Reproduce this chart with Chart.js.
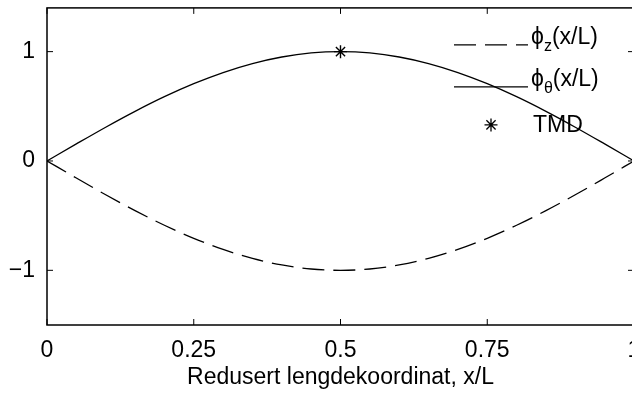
<!DOCTYPE html>
<html>
<head>
<meta charset="utf-8">
<script src="https://cdn.jsdelivr.net/npm/chart.js@4.4.1/dist/chart.umd.min.js"></script>
<style>
  html, body { margin: 0; padding: 0; background: #fff; overflow: hidden; }
  #wrap { width: 664px; height: 394px; }
</style>
</head>
<body>
<div id="wrap"><canvas id="chart" width="664" height="394"></canvas></div>
<script>
// mode shapes along the girder, x/L
const positions = [0, 0.05, 0.10, 0.15, 0.20, 0.25, 0.30, 0.35, 0.40, 0.45, 0.50,
                   0.55, 0.60, 0.65, 0.70, 0.75, 0.80, 0.85, 0.90, 0.95, 1.00];
const phiTheta = [0, 0.156, 0.309, 0.454, 0.588, 0.707, 0.809, 0.891, 0.951, 0.988, 1.000,
                  0.988, 0.951, 0.891, 0.809, 0.707, 0.588, 0.454, 0.309, 0.156, 0];
const phiZ = [0, -0.156, -0.309, -0.454, -0.588, -0.707, -0.809, -0.891, -0.951, -0.988, -1.000,
              -0.988, -0.951, -0.891, -0.809, -0.707, -0.588, -0.454, -0.309, -0.156, 0];
const tmdPos = [0.5];
const tmdVal = [1];

const xTicks = [0, 0.25, 0.5, 0.75, 1];
const xTickLabels = ['0', '0.25', '0.5', '0.75', '1'];
const yTicks = [-1, 0, 1];
const yTickLabels = ['\u22121', '0', '1'];

const FONT = "'Liberation Sans', Arial, Helvetica, sans-serif";
const FONT_SIZE = 23;

function pts(xs, ys) {
  return xs.map((x, i) => ({ x: x, y: ys[i] }));
}

// box around the axes with the ticks pointing inwards
const framePlugin = {
  id: 'frame',
  afterDraw(chart) {
    const { ctx, chartArea: a, scales } = chart;
    const len = 6;
    ctx.save();
    ctx.strokeStyle = '#000';
    ctx.lineWidth = 1.5;
    ctx.strokeRect(a.left, a.top, a.right - a.left, a.bottom - a.top);
    ctx.lineWidth = 1;
    ctx.beginPath();
    xTicks.forEach(v => {
      const px = scales.x.getPixelForValue(v);
      ctx.moveTo(px, a.bottom); ctx.lineTo(px, a.bottom - len);
      ctx.moveTo(px, a.top); ctx.lineTo(px, a.top + len);
    });
    yTicks.forEach(v => {
      const py = scales.y.getPixelForValue(v);
      ctx.moveTo(a.left, py); ctx.lineTo(a.left + len, py);
      ctx.moveTo(a.right, py); ctx.lineTo(a.right - len, py);
    });
    ctx.stroke();
    ctx.restore();
  }
};

// legend in the upper right corner, with subscripts
const legendPlugin = {
  id: 'modeLegend',
  afterDraw(chart) {
    const { ctx, chartArea: a } = chart;
    const x0 = a.right - 180;
    const x1 = a.right - 106;
    const tx = a.right - 103;
    const rows = [a.top + 37, a.top + 79, a.top + 117];
    const sets = chart.data.datasets;

    ctx.save();
    ctx.strokeStyle = '#000';
    ctx.fillStyle = '#000';

    for (let i = 0; i < 2; i++) {
      ctx.lineWidth = sets[i].borderWidth;
      ctx.setLineDash(sets[i].borderDash || []);
      ctx.beginPath();
      ctx.moveTo(x0, rows[i]);
      ctx.lineTo(x1, rows[i]);
      ctx.stroke();
    }
    ctx.setLineDash([]);

    const subs = ['z', '\u03b8'];
    ctx.textBaseline = 'alphabetic';
    for (let i = 0; i < 2; i++) {
      const base = rows[i] - 1;
      let x = tx;
      ctx.font = FONT_SIZE + 'px ' + FONT;
      ctx.fillText('\u03d5', x, base);
      x += ctx.measureText('\u03d5').width;
      ctx.font = '16px ' + FONT;
      ctx.fillText(subs[i], x, base + 7);
      x += ctx.measureText(subs[i]).width;
      ctx.font = FONT_SIZE + 'px ' + FONT;
      ctx.fillText('(x/L)', x, base);
    }

    Chart.helpers.drawPoint(ctx, {
      pointStyle: 'star', radius: 6.5, rotation: 0, borderWidth: 1.4
    }, (x0 + x1) / 2, rows[2]);
    ctx.font = FONT_SIZE + 'px ' + FONT;
    ctx.textBaseline = 'middle';
    ctx.fillText('TMD', tx + 2, rows[2] + 1);
    ctx.restore();
  }
};

const ctx = document.getElementById('chart').getContext('2d');
new Chart(ctx, {
  type: 'line',
  data: {
    datasets: [
      {
        label: 'phi_z',
        data: pts(positions, phiZ),
        borderColor: '#000',
        borderWidth: 1.3,
        borderDash: [22, 9],
        pointRadius: 0,
        cubicInterpolationMode: 'monotone',
        fill: false
      },
      {
        label: 'phi_theta',
        data: pts(positions, phiTheta),
        borderColor: '#000',
        borderWidth: 1.3,
        pointRadius: 0,
        cubicInterpolationMode: 'monotone',
        fill: false
      },
      {
        label: 'TMD',
        data: pts(tmdPos, tmdVal),
        showLine: false,
        pointStyle: 'star',
        pointRadius: 6.5,
        borderColor: '#000',
        borderWidth: 1.4
      }
    ]
  },
  options: {
    responsive: false,
    animation: false,
    events: [],
    layout: { padding: { top: 6, right: 30, left: 0, bottom: 0 } },
    plugins: {
      legend: { display: false },
      tooltip: { enabled: false }
    },
    scales: {
      x: {
        type: 'linear',
        min: 0,
        max: 1,
        grid: { display: false },
        border: { display: false },
        afterBuildTicks: scale => { scale.ticks = xTicks.map(v => ({ value: v })); },
        afterFit: scale => {
          scale.height = 69;
          scale.paddingLeft = 0;
          scale.paddingRight = 0;
        },
        ticks: {
          color: '#000',
          font: { family: FONT, size: FONT_SIZE },
          padding: 4,
          maxRotation: 0,
          autoSkip: false,
          callback: (v, i) => xTickLabels[i]
        },
        title: {
          display: true,
          text: 'Redusert lengdekoordinat, x/L',
          color: '#000',
          font: { family: FONT, size: FONT_SIZE },
          padding: { top: 0, bottom: 3 }
        }
      },
      y: {
        min: -1.5,
        max: 1.4,
        grid: { display: false },
        border: { display: false },
        afterBuildTicks: scale => { scale.ticks = yTicks.map(v => ({ value: v })); },
        afterFit: scale => {
          scale.width = 47;
          scale.paddingTop = 0;
          scale.paddingBottom = 0;
        },
        ticks: {
          color: '#000',
          font: { family: FONT, size: FONT_SIZE },
          padding: 4,
          autoSkip: false,
          callback: (v, i) => yTickLabels[i]
        }
      }
    }
  },
  plugins: [framePlugin, legendPlugin]
});
</script>
</body>
</html>
